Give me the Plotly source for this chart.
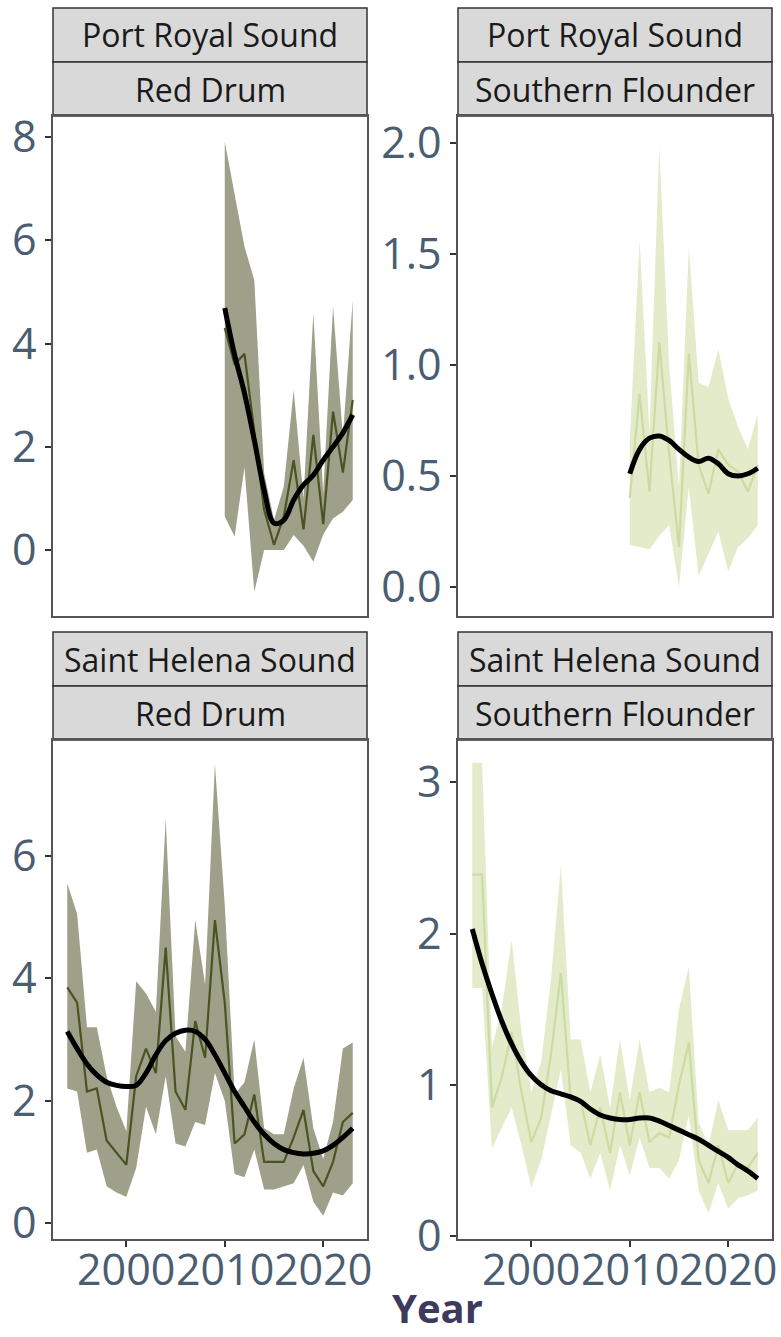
import plotly.graph_objects as go

W, H = 781, 1337

# ---------------- data ----------------
years_pr = list(range(2010, 2024))
years_sh = list(range(1994, 2024))

# Port Royal Sound - Red Drum
rd_pr_mean = [4.3, 3.6, 3.8, 2.3, 0.78, 0.1, 0.65, 1.74, 0.4, 2.23, 0.5, 2.68, 1.5, 2.91]
rd_pr_upper = [7.91, 6.92, 5.88, 5.23, 1.49, 0.58, 1.23, 3.1, 1.0, 4.59, 1.1, 4.72, 2.2, 4.84]
rd_pr_lower = [0.65, 0.26, 1.6, -0.81, 0.0, 0.0, 0.0, 0.29, 0.08, -0.23, 0.3, 0.61, 0.74, 0.97]
rd_pr_smooth = [4.69, 3.78, 3.04, 2.13, 1.16, 0.52, 0.58, 0.97, 1.26, 1.45, 1.74, 2.0, 2.27, 2.62]

# Port Royal Sound - Southern Flounder
sf_pr_mean = [0.40, 0.87, 0.43, 1.10, 0.60, 0.18, 1.05, 0.55, 0.42, 0.62, 0.55, 0.52, 0.43, 0.55]
sf_pr_upper = [0.66, 1.56, 0.70, 1.98, 1.00, 0.45, 1.53, 0.92, 0.90, 1.07, 0.85, 0.72, 0.62, 0.78]
sf_pr_lower = [0.19, 0.18, 0.17, 0.23, 0.28, 0.00, 0.45, 0.05, 0.15, 0.25, 0.07, 0.18, 0.22, 0.28]
sf_pr_smooth = [0.51, 0.62, 0.67, 0.68, 0.66, 0.62, 0.585, 0.565, 0.58, 0.555, 0.51, 0.50, 0.51, 0.535]

# Saint Helena Sound - Red Drum
rd_sh_mean = [3.85, 3.6, 2.15, 2.2, 1.35, 1.15, 0.95, 2.4, 2.85, 2.45, 4.5, 2.15, 1.85, 3.3, 2.7,
              4.95, 3.6, 1.3, 1.45, 2.1, 1.0, 1.0, 1.0, 1.4, 1.85, 0.85, 0.6, 1.0, 1.65, 1.8]
rd_sh_upper = [5.55, 5.05, 3.2, 3.2, 2.4, 1.9, 1.5, 3.95, 3.75, 3.45, 6.6, 3.05, 2.8, 4.95, 3.9,
               7.5, 5.2, 2.1, 2.3, 3.0, 1.55, 1.45, 1.45, 2.2, 2.7, 1.55, 1.05, 1.65, 2.85, 2.95]
rd_sh_lower = [2.2, 2.15, 1.15, 1.2, 0.6, 0.5, 0.43, 0.9, 1.9, 1.45, 2.4, 1.3, 1.25, 1.65, 1.6,
               2.45, 2.0, 0.8, 0.75, 1.2, 0.55, 0.55, 0.6, 0.65, 0.95, 0.35, 0.12, 0.5, 0.45, 0.65]
rd_sh_smooth = [3.13, 2.85, 2.6, 2.42, 2.3, 2.25, 2.23, 2.25, 2.45, 2.75, 2.98, 3.1, 3.15, 3.13, 3.0,
                2.75, 2.45, 2.15, 1.9, 1.65, 1.45, 1.3, 1.2, 1.15, 1.13, 1.14, 1.18, 1.27, 1.4, 1.55]

# Saint Helena Sound - Southern Flounder
sf_sh_mean = [2.39, 2.39, 0.85, 1.05, 1.35, 0.95, 0.62, 0.78, 1.2, 1.74, 0.9, 0.9, 0.6, 0.85, 0.55,
              0.95, 0.6, 0.95, 0.62, 0.68, 0.65, 1.0, 1.28, 0.5, 0.35, 0.6, 0.35, 0.48, 0.45, 0.55]
sf_sh_upper = [3.13, 3.13, 1.25, 1.5, 1.96, 1.35, 0.95, 1.15, 1.7, 2.45, 1.3, 1.3, 0.95, 1.2, 0.85,
               1.3, 0.9, 1.3, 0.95, 0.98, 0.95, 1.5, 1.78, 0.75, 0.6, 0.9, 0.7, 0.7, 0.7, 0.78]
sf_sh_lower = [1.64, 1.64, 0.58, 0.72, 0.85, 0.6, 0.32, 0.5, 0.8, 1.1, 0.6, 0.55, 0.38, 0.55, 0.3,
               0.6, 0.4, 0.65, 0.45, 0.45, 0.38, 0.5, 0.8, 0.3, 0.15, 0.35, 0.18, 0.25, 0.27, 0.3]
sf_sh_smooth = [2.03, 1.8, 1.6, 1.42, 1.27, 1.15, 1.06, 1.0, 0.96, 0.94, 0.92, 0.89, 0.84, 0.8, 0.78,
                0.77, 0.77, 0.78, 0.78, 0.76, 0.73, 0.7, 0.67, 0.64, 0.6, 0.56, 0.52, 0.47, 0.43, 0.38]

x_tickvals = [2000, 2010, 2020]
x_ticktext = ["2000", "2010", "2020"]
strip_sites = ["Port Royal Sound", "Port Royal Sound", "Saint Helena Sound", "Saint Helena Sound"]
strip_species = ["Red Drum", "Southern Flounder", "Red Drum", "Southern Flounder"]

# ---------------- styling ----------------
RD_FILL = "#9ea08a"
RD_LINE = "#4a5423"
SF_FILL = "#e4ebca"
SF_LINE = "#cddba3"
TICK_COL = "#4b5d70"
FONT = "Open Sans"


def py(px):
    return 1 - px / H


# panel pixel boxes (x0, x1, ytop, ybottom)
panels = [
    (53, 367, 116, 616),
    (458, 772, 116, 616),
    (53, 367, 740, 1239),
    (458, 772, 740, 1239),
]
yranges = [[-1.28, 8.41], [-0.13, 2.12], [-0.26, 7.89], [-0.02, 3.28]]
ytickvals = [[0, 2, 4, 6, 8], [0, 0.5, 1.0, 1.5, 2.0], [0, 2, 4, 6], [0, 1, 2, 3]]
yfmt = ["d", ".1f", "d", "d"]

series = [
    (years_pr, rd_pr_mean, rd_pr_upper, rd_pr_lower, rd_pr_smooth, RD_FILL, RD_LINE),
    (years_pr, sf_pr_mean, sf_pr_upper, sf_pr_lower, sf_pr_smooth, SF_FILL, SF_LINE),
    (years_sh, rd_sh_mean, rd_sh_upper, rd_sh_lower, rd_sh_smooth, RD_FILL, RD_LINE),
    (years_sh, sf_sh_mean, sf_sh_upper, sf_sh_lower, sf_sh_smooth, SF_FILL, SF_LINE),
]

fig = go.Figure()
layout = dict(
    width=W, height=H, margin=dict(l=0, r=0, t=0, b=0),
    paper_bgcolor="white", plot_bgcolor="white", showlegend=False,
    font=dict(family=FONT),
)

shapes = []
annotations = []

for i, (box, (yrs, mean, up, lo, sm, fc, lc)) in enumerate(zip(panels, series)):
    n = i + 1
    xa = "xaxis" if n == 1 else f"xaxis{n}"
    ya = "yaxis" if n == 1 else f"yaxis{n}"
    xr = "x" if n == 1 else f"x{n}"
    yr = "y" if n == 1 else f"y{n}"
    x0, x1, yt, yb = box
    bottom_row = i >= 2
    layout[xa] = dict(
        domain=[x0 / W, x1 / W], anchor=yr, range=[1992.55, 2024.45],
        showgrid=False, zeroline=False, showline=True, mirror=True,
        linecolor="#555555", linewidth=1.5,
        ticks="outside" if bottom_row else "", ticklen=6, tickwidth=1.5, tickcolor="#333333",
        tickvals=x_tickvals, showticklabels=False, automargin=False,
    )
    layout[ya] = dict(
        domain=[py(yb), py(yt)], anchor=xr, range=yranges[i],
        showgrid=False, zeroline=False, showline=True, mirror=True,
        linecolor="#555555", linewidth=1.5, automargin=False,
        ticks="outside", ticklen=6, tickwidth=1.5, tickcolor="#333333",
        tickvals=ytickvals[i], tickformat=yfmt[i],
        tickfont=dict(family=FONT, size=43, color=TICK_COL),
    )
    # x tick labels (placed at tick values, just below the axis)
    if bottom_row:
        for tv, tt in zip(x_tickvals, x_ticktext):
            annotations.append(dict(xref=xr, yref="paper", x=tv, y=py(1268), text=tt,
                                    showarrow=False, xanchor="center", yanchor="middle",
                                    font=dict(family=FONT, size=43, color=TICK_COL)))
    # ribbon
    fig.add_trace(go.Scatter(
        x=yrs + yrs[::-1], y=up + lo[::-1], fill="toself", fillcolor=fc,
        line=dict(width=0, color=fc), mode="lines", xaxis=xr, yaxis=yr, hoverinfo="skip",
    ))
    # mean line
    fig.add_trace(go.Scatter(
        x=yrs, y=mean, mode="lines", line=dict(color=lc, width=2.2),
        xaxis=xr, yaxis=yr,
    ))
    # smooth
    fig.add_trace(go.Scatter(
        x=yrs, y=sm, mode="lines", line=dict(color="black", width=5, shape="spline", smoothing=1.0),
        xaxis=xr, yaxis=yr,
    ))
    # strips
    s1 = (yt - 108, yt - 54)
    s2 = (yt - 54, yt)
    for (a, b), txt in [(s1, strip_sites[i]), (s2, strip_species[i])]:
        shapes.append(dict(type="rect", xref="paper", yref="paper",
                           x0=x0 / W, x1=x1 / W, y0=py(b), y1=py(a),
                           fillcolor="#d9d9d9", line=dict(color="#333333", width=1.5), layer="below"))
        annotations.append(dict(xref="paper", yref="paper", x=(x0 + x1) / 2 / W, y=py((a + b) / 2),
                                text=txt, showarrow=False, xanchor="center", yanchor="middle",
                                font=dict(family=FONT, size=32, color="#1a1a1a")))

annotations.append(dict(xref="paper", yref="paper", x=437 / W, y=py(1307), text="<b>Year</b>",
                        showarrow=False, xanchor="center", yanchor="middle",
                        font=dict(family=FONT, size=40, color="#3d3a5e")))

layout["shapes"] = shapes
layout["annotations"] = annotations
fig.update_layout(**layout)
fig.write_html("out.html")
